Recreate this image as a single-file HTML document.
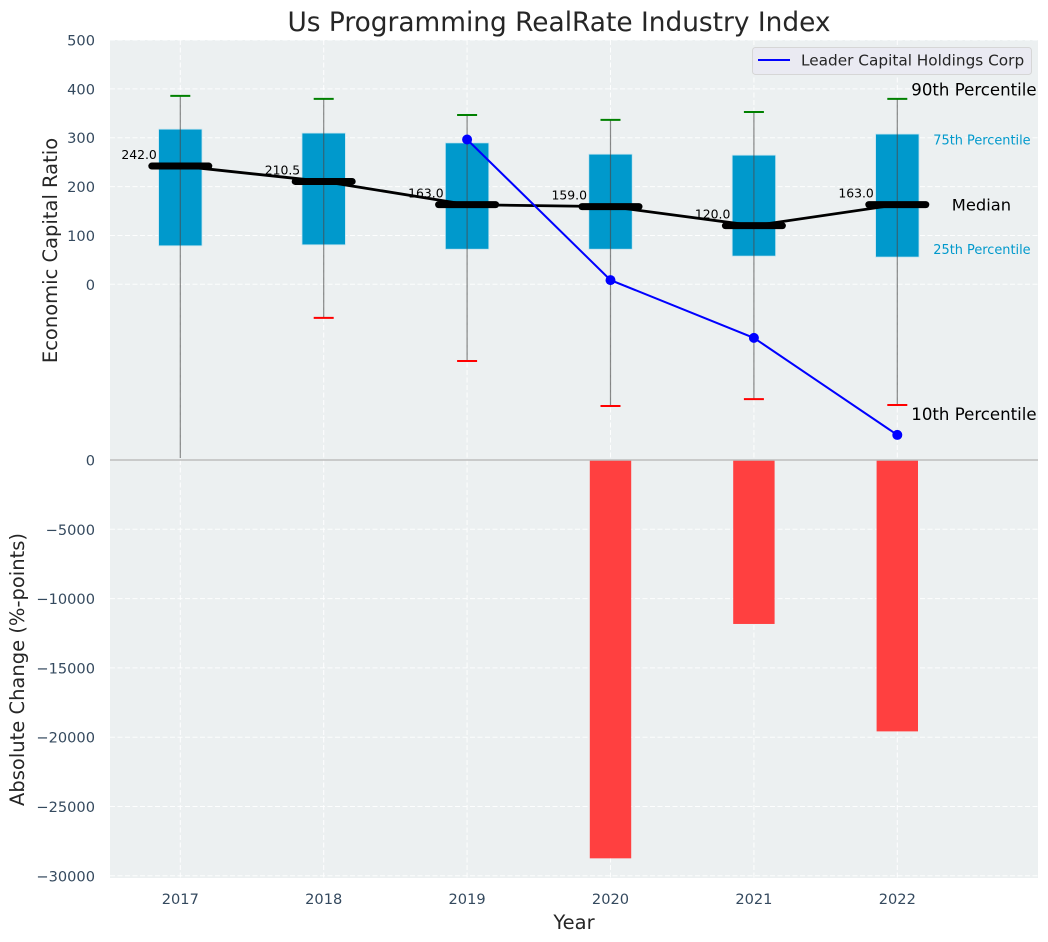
<!DOCTYPE html>
<html>
<head>
<meta charset="utf-8">
<title>Us Programming RealRate Industry Index</title>
<style>
html,body{margin:0;padding:0;background:#fff;}
svg{display:block;font-family:"DejaVu Sans","Liberation Sans",sans-serif;}
.tick{font-size:14.6px;fill:#34495e;}
.axis-label{font-size:19.5px;fill:#262626;}
</style>
</head>
<body>
<svg id="chart" width="1048" height="942" viewBox="0 0 1048 942" xmlns="http://www.w3.org/2000/svg">
  <defs>
    <clipPath id="top-clip"><rect x="110" y="40" width="928" height="418"/></clipPath>
  </defs>
  <rect x="0" y="0" width="1048" height="942" fill="#ffffff"/>
  <rect x="110" y="40" width="928" height="420" fill="#ecf0f1"/>
  <rect x="110" y="460" width="928" height="418" fill="#ecf0f1"/>
  <g id="grid"></g>
  <g id="bars"></g>
  <g id="boxes" clip-path="url(#top-clip)"></g>
  <g id="medians"></g>
  <g id="leader"></g>
  <g id="ticks"></g>
  <line x1="110" y1="460" x2="1038" y2="460" stroke="#bdbdbd" stroke-width="1.4"/>
  <text x="559" y="31" text-anchor="middle" font-size="26.4" fill="#262626">Us Programming RealRate Industry Index</text>
  <text class="axis-label" x="574" y="929" text-anchor="middle">Year</text>
  <text class="axis-label" transform="translate(57,250.5) rotate(-90)" text-anchor="middle">Economic Capital Ratio</text>
  <text class="axis-label" transform="translate(24,669.5) rotate(-90)" text-anchor="middle">Absolute Change (%-points)</text>
  <g>
    <rect x="752.5" y="47.5" width="279" height="27" rx="3" fill="#eaeaf2" stroke="#d6d6d6" stroke-width="1"/>
    <line x1="758" y1="60" x2="790" y2="60" stroke="#0000ff" stroke-width="2"/>
    <text x="801" y="65.5" font-size="15.3" fill="#262626">Leader Capital Holdings Corp</text>
  </g>
  <g id="annotations"></g>
</svg>
<script>
const years = [2017, 2018, 2019, 2020, 2021, 2022];
const p90 = [385.6, 379.6, 346.6, 336.5, 352.6, 379.6];
const p75 = [317.5, 309.5, 289.4, 266.3, 264.3, 307.5];
const medianValues = [242.0, 210.5, 163.0, 159.0, 120.0, 163.0];
const p25 = [78.8, 80.8, 71.8, 71.8, 57.7, 55.7];
const p10 = [-422.6, -68.6, -156.9, -249.1, -235.1, -247.1];
const leaderYears = [2019, 2020, 2021, 2022];
const leaderValues = [296.4, 8.6, -109.7, -308.3];
const barYears = [2020, 2021, 2022];
const barValues = [-28740, -11830, -19580];
const topTicks = [0, 100, 200, 300, 400, 500];
const bottomTicks = [0, -5000, -10000, -15000, -20000, -25000, -30000];

const NS = 'http://www.w3.org/2000/svg';
const xScale = function (year) { return 180.3 + (year - 2017) * 143.4; };
const yTop = function (v) { return 284.3 - 0.4886 * v; };
const yBottom = function (v) { return 460 - 0.01386 * v; };
const fmt = function (v) { return String(v).replace('-', '\u2212'); };

function make(tag, parent, props, content) {
  const el = document.createElementNS(NS, tag);
  for (const k in props) { el.setAttribute(k, props[k]); }
  if (content !== undefined) { el.textContent = content; }
  document.getElementById(parent).appendChild(el);
  return el;
}

const gridStyle = { stroke: '#ffffff', 'stroke-width': 1, 'stroke-dasharray': '5 2.5', 'stroke-opacity': 0.9 };

topTicks.forEach(function (t) {
  const g = make('line', 'grid', Object.assign({ x1: 110, x2: 1038, y1: yTop(t), y2: yTop(t) }, gridStyle));
  
  
  const label = make('text', 'ticks', { class: 'tick', x: 95, y: yTop(t) + 5.5, 'text-anchor': 'end' }, fmt(t));
  
  
});

bottomTicks.forEach(function (t) {
  const g = make('line', 'grid', Object.assign({ x1: 110, x2: 1038, y1: yBottom(t), y2: yBottom(t) }, gridStyle));
  
  
  const label = make('text', 'ticks', { class: 'tick', x: 95, y: yBottom(t) + 5.5, 'text-anchor': 'end' }, fmt(t));
  
  
});

years.forEach(function (yr) {
  const g = make('line', 'grid', Object.assign({ x1: xScale(yr), x2: xScale(yr), y1: 40, y2: 878 }, gridStyle));
  
  
  const label = make('text', 'ticks', { class: 'tick', x: xScale(yr), y: 904, 'text-anchor': 'middle' }, String(yr));
  
  
});

barYears.forEach(function (yr, i) {
  const bar = make('rect', 'bars', {
    x: xScale(yr) - 20.7, y: yBottom(0), width: 41.4,
    height: yBottom(barValues[i]) - yBottom(0), fill: '#ff4040'
  });
  
  
});

years.forEach(function (yr, i) {
  const cx = xScale(yr);
  const box = make('rect', 'boxes', {
    x: cx - 21.7, y: yTop(p75[i]), width: 43.4, height: yTop(p25[i]) - yTop(p75[i]),
    fill: '#0099cc', stroke: '#c5e4ef', 'stroke-width': 0.8
  });
  
  
  const whisker = make('line', 'boxes', {
    x1: cx, x2: cx, y1: yTop(p90[i]), y2: yTop(p10[i]), stroke: '#4a4a4a', 'stroke-opacity': 0.65, 'stroke-width': 1.2
  });
  
  
  const capTop = make('line', 'boxes', {
    x1: cx - 10, x2: cx + 10, y1: yTop(p90[i]), y2: yTop(p90[i]), stroke: '#008000', 'stroke-width': 2
  });
  
  
  const capBottom = make('line', 'boxes', {
    x1: cx - 10, x2: cx + 10, y1: yTop(p10[i]), y2: yTop(p10[i]), stroke: '#ff0000', 'stroke-width': 2
  });
  
  
});

const medianLine = make('polyline', 'medians', {
  points: years.map(function (yr, i) { return xScale(yr) + ',' + yTop(medianValues[i]); }).join(' '),
  fill: 'none', stroke: '#000000', 'stroke-width': 2.8
});



years.forEach(function (yr, i) {
  const cx = xScale(yr);
  const cy = yTop(medianValues[i]);
  const seg = make('line', 'medians', {
    x1: cx - 28.5, x2: cx + 28.5, y1: cy, y2: cy, stroke: '#000000', 'stroke-width': 7, 'stroke-linecap': 'round'
  });
  
  
  const label = make('text', 'medians', {
    x: cx - 23.5, y: cy - 7, 'text-anchor': 'end', 'font-size': 12.4, fill: '#000000'
  }, medianValues[i].toFixed(1));
  
  
});

const leaderLine = make('polyline', 'leader', {
  points: leaderYears.map(function (yr, i) { return xScale(yr) + ',' + yTop(leaderValues[i]); }).join(' '),
  fill: 'none', stroke: '#0000ff', 'stroke-width': 2
});



leaderYears.forEach(function (yr, i) {
  const dot = make('circle', 'leader', { cx: xScale(yr), cy: yTop(leaderValues[i]), r: 5, fill: '#0000ff' });
  
  
});

const last = years.length - 1;
const lastX = xScale(years[last]);

const note90 = make('text', 'annotations', { x: lastX + 14, y: yTop(p90[last]) - 3.5, 'font-size': 16.6, fill: '#000000' }, '90th Percentile');


const note75 = make('text', 'annotations', { x: lastX + 36, y: yTop(p75[last]) + 10.5, 'font-size': 12.9, fill: '#0099cc' }, '75th Percentile');


const noteMedian = make('text', 'annotations', { x: lastX + 54.5, y: yTop(medianValues[last]) + 6, 'font-size': 16.3, fill: '#000000' }, 'Median');


const note25 = make('text', 'annotations', { x: lastX + 36, y: yTop(p25[last]) - 3, 'font-size': 12.9, fill: '#0099cc' }, '25th Percentile');


const note10 = make('text', 'annotations', { x: lastX + 14, y: yTop(p10[last]) + 15, 'font-size': 16.6, fill: '#000000' }, '10th Percentile');


</script>
</body>
</html>
